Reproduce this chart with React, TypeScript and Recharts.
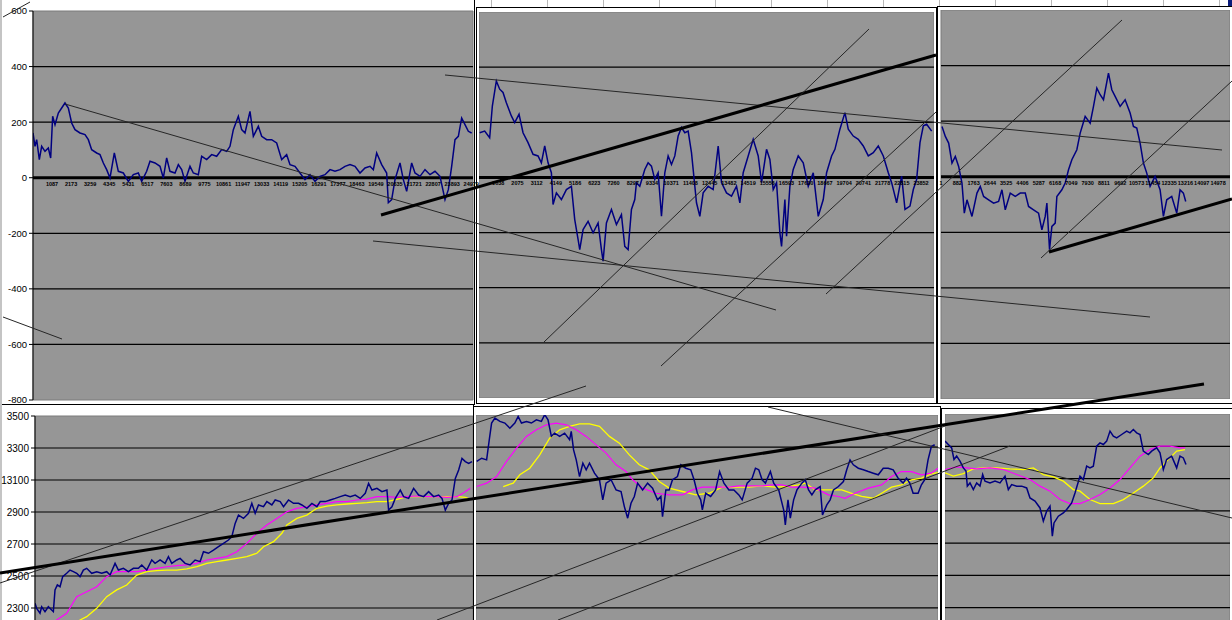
import React from "react";
import {
  LineChart,
  Line,
  XAxis,
  YAxis,
  CartesianGrid,
  ReferenceLine,
  ReferenceArea,
  ReferenceDot,
} from "recharts";

const FONT = '"Liberation Sans", Arial, sans-serif';
const NAVY = "#000080";
const MAGENTA = "#ff00ff";
const YELLOW = "#ffff00";
const PLOT_GRAY = "#969696";

// oscillator panels (top row)
const oscTicks = [-800, -600, -400, -200, 0, 200, 400, 600];
const oscTickLabels = ["-800", "-600", "-400", "-200", "0", "200", "400", "600"];
const oscGrid = [-600, -400, -200, 200, 400];

// price panels (bottom row)
const priceTicks = [2300, 2500, 2700, 2900, 3100, 3300, 3500];
const priceTickLabels = ["2300", "2500", "2700", "2900", "13100", "3300", "3500"];
const priceGrid = [2300, 2500, 2700, 2900, 3100, 3300];

// category labels under the zero line
const p1Labels = [1087, 2173, 3259, 4345, 5431, 6517, 7603, 8689, 9775, 10861, 11947, 13033, 14119, 15205, 16291, 17377, 18463, 19549, 20635, 21721, 22807, 23893, 24979];
const p2Labels = [1038, 2075, 3112, 4149, 5186, 6223, 7260, 8297, 9334, 10371, 11408, 12445, 13482, 14519, 15556, 16593, 17630, 18667, 19704, 20741, 21778, 22815, 23852];
const p3Labels = [1, 882, 1763, 2644, 3525, 4406, 5287, 6168, 7049, 7930, 8811, 9692, 10573, 11454, 12335, 13216, 14097, 14978];

// panel 1 oscillator
const p1Bars = [
  0, 114, 209, 361, 494, 684, 874, 1007, 1121, 1254,
  1444, 1634, 1824, 2014, 2204, 2394, 2679, 2964, 3154, 3344,
  3629, 3819, 4009, 4199, 4389, 4636, 4864, 5149, 5434, 5719,
  6004, 6194, 6479, 6669, 6954, 7239, 7429, 7619, 7809, 8094,
  8284, 8474, 8664, 8949, 9139, 9424, 9614, 9899, 10184, 10469,
  10754, 11039, 11229, 11419, 11704, 11894, 12084, 12369, 12559, 12844,
  13034, 13319, 13604, 13889, 14174, 14459, 14649, 14934, 15219, 15504,
  15789, 16074, 16359, 16644, 16929, 17214, 17499, 17784, 18069, 18354,
  18639, 18924, 19209, 19399, 19589, 19874, 20159, 20254, 20444, 20634,
  20919, 21109, 21299, 21584, 21774, 22059, 22344, 22629, 22914, 23199,
  23484, 23674, 23864, 24054, 24244, 24434, 24624, 24814, 25004,
];
const p1Osc = [
  161, 113, 137, 65, 113, 95, 107, 71, 221, 191,
  233, 251, 269, 251, 197, 173, 161, 155, 137, 101,
  89, 83, 53, 29, -1, 89, 23, 17, -13, 11,
  17, -13, 23, 59, 53, 41, -1, 71, 23, 17,
  47, 29, -13, 41, 17, 11, 77, 65, 83, 77,
  101, 95, 113, 173, 221, 173, 161, 239, 149, 185,
  149, 137, 137, 125, 65, 83, 47, 41, 17, -7,
  11, -13, 5, 11, 29, 23, 29, 41, 47, 41,
  17, 35, 41, 29, 89, 47, 17, -90, -79, -7,
  53, -7, -49, 53, 17, 5, 29, 11, 23, 5,
  -79, -43, 41, 137, 149, 215, 191, 167, 161,
];

// panel 2 oscillator
const p2Bars = [
  36, 306, 576, 720, 936, 1116, 1296, 1476, 1746, 1926,
  2160, 2376, 2646, 2916, 3186, 3366, 3546, 3726, 3906, 3996,
  4176, 4446, 4716, 4986, 5166, 5346, 5436, 5616, 5886, 6156,
  6426, 6606, 6696, 6876, 7146, 7416, 7686, 7866, 8046, 8226,
  8406, 8496, 8676, 8946, 9126, 9306, 9486, 9666, 9846, 10026,
  10206, 10386, 10566, 10746, 10926, 11106, 11286, 11466, 11736, 11916,
  12096, 12366, 12636, 12906, 13086, 13356, 13626, 13896, 14076, 14256,
  14526, 14796, 15066, 15246, 15516, 15696, 15876, 16056, 16236, 16326,
  16506, 16596, 16776, 16956, 17226, 17496, 17766, 18036, 18306, 18576,
  18756, 19026, 19206, 19476, 19746, 19926, 20196, 20466, 20736, 21006,
  21276, 21546, 21816, 22086, 22266, 22536, 22806, 22986, 23256, 23436,
  23616, 23796, 23976, 24156, 24426,
];
const p2Osc = [
  162, 168, 144, 259, 350, 320, 308, 271, 223, 199,
  229, 162, 126, 84, 78, 53, 114, 53, 17, -98,
  -56, -80, -44, -32, -153, -225, -262, -189, -159, -201,
  -165, -262, -304, -165, -116, -171, -135, -250, -262, -116,
  -80, -19, -32, 29, 53, 41, -7, 17, -141, 17,
  78, 47, 78, 150, 181, 162, 168, 90, -92, -141,
  -56, -32, -44, 114, -19, -56, -68, -32, -92, 17,
  78, 138, 78, -19, 102, 65, -44, -19, -201, -250,
  -80, -213, -32, 29, 78, 53, -32, 17, -141, -80,
  17, 78, 102, 175, 235, 175, 150, 138, 114, 78,
  90, 114, 78, 17, -19, -92, 5, -116, -104, -44,
  -7, 126, 187, 193, 168,
];

// panel 3 oscillator
const p3Bars = [
  54, 234, 414, 594, 774, 954, 1134, 1260, 1404, 1674,
  1944, 2124, 2304, 2574, 2844, 3114, 3294, 3474, 3744, 4014,
  4284, 4554, 4734, 5004, 5274, 5454, 5634, 5724, 5868, 5994,
  6174, 6264, 6534, 6714, 6894, 7074, 7344, 7524, 7794, 8064,
  8244, 8424, 8604, 8784, 9054, 9234, 9414, 9684, 9954, 10224,
  10404, 10584, 10764, 10944, 11124, 11304, 11574, 11844, 12024, 12204,
  12474, 12744, 12924, 13104, 13230,
];
const p3Osc = [
  181, 145, 121, 49, 73, 37, -23, -131, -83, -143,
  -59, -35, -71, -83, -95, -89, -47, -119, -59, -71,
  -59, -59, -107, -119, -131, -191, -143, -95, -263, -179,
  -167, -71, -47, -23, 25, 61, 97, 157, 217, 193,
  253, 319, 295, 277, 373, 313, 289, 253, 277, 229,
  181, 175, 121, 49, 13, -35, 1, -47, -143, -83,
  -71, -131, -47, -59, -89,
];

// panel 4 price and averages
const p4Bars = [
  0, 50, 150, 200, 300, 400, 500, 550, 600, 670,
  750, 830, 950, 1050, 1150, 1250, 1350, 1450, 1550, 1700,
  1850, 2000, 2150, 2250, 2400, 2500, 2650, 2800, 2950, 3100,
  3200, 3350, 3500, 3600, 3750, 3900, 4000, 4100, 4250, 4350,
  4500, 4650, 4800, 4950, 5050, 5200, 5350, 5500, 5650, 5800,
  5900, 6000, 6100, 6250, 6400, 6500, 6600, 6700, 6850, 6950,
  7100, 7200, 7350, 7450, 7600, 7750, 7900, 8000, 8150, 8300,
  8450, 8550, 8700, 8850, 9000, 9150, 9300, 9450, 9600, 9750,
  9900, 10000, 10100, 10250, 10400, 10550, 10600, 10700, 10800, 10950,
  11050, 11200, 11350, 11500, 11650, 11800, 11950, 12100, 12200, 12300,
  12400, 12500, 12600, 12700, 12800, 12900, 13000, 13100,
];
const p4Close = [
  2329, 2298, 2267, 2308, 2277, 2308, 2287, 2277, 2413, 2444,
  2433, 2496, 2517, 2537, 2527, 2517, 2496, 2537, 2548, 2517,
  2527, 2517, 2527, 2506, 2579, 2537, 2548, 2527, 2548, 2548,
  2569, 2537, 2600, 2579, 2600, 2579, 2621, 2579, 2600, 2610,
  2579, 2569, 2600, 2590, 2652, 2642, 2662, 2683, 2704, 2725,
  2746, 2829, 2881, 2860, 2892, 2954, 2892, 2944, 2933, 2965,
  2944, 2975, 2965, 2933, 2975, 2954, 2954, 2944, 2923, 2954,
  2933, 2965, 2965, 2975, 2985, 2996, 3006, 2996, 3006, 2985,
  3017, 3079, 3037, 3048, 3027, 3037, 2912, 2933, 2985, 3037,
  2996, 2985, 3048, 3006, 2996, 3027, 2996, 3006, 2985, 2912,
  2954, 2975, 3110, 3162, 3235, 3215, 3204, 3215,
];
const p4FastBars = [
  550, 650, 950, 1250, 1550, 1850, 2150, 2450, 2750, 3050,
  3350, 3650, 3950, 4250, 4550, 4850, 5150, 5450, 5750, 6050,
  6350, 6650, 6950, 7250, 7550, 7850, 8150, 8450, 8750, 9050,
  9350, 9650, 9950, 10250, 10550, 10850, 11150, 11450, 11750, 12050,
  12350, 12650, 12850, 13050,
];
const p4Fast = [
  2200, 2225, 2267, 2371, 2402, 2433, 2496, 2527, 2527, 2527,
  2537, 2548, 2558, 2565, 2569, 2579, 2600, 2610, 2621, 2652,
  2704, 2767, 2819, 2860, 2902, 2923, 2933, 2944, 2954, 2965,
  2965, 2975, 2981, 2996, 2996, 2992, 2996, 3000, 2996, 2996,
  2992, 2996, 3021, 3048,
];
const p4SlowBars = [
  1150, 1350, 1550, 1850, 2150, 2450, 2750, 3050, 3350, 3650,
  3950, 4250, 4550, 4850, 5150, 5450, 5750, 6050, 6350, 6650,
  6850, 7150, 7400, 7550, 7850, 8150, 8450, 8750, 9050, 9350,
  9650, 9950, 10250, 10550, 10850, 11150, 11450, 11750, 12050, 12350,
  12650, 12900, 13050,
];
const p4Slow = [
  2190, 2225, 2246, 2298, 2371, 2413, 2444, 2506, 2527, 2533,
  2537, 2537, 2544, 2558, 2579, 2590, 2600, 2610, 2621, 2642,
  2683, 2715, 2767, 2819, 2860, 2881, 2923, 2937, 2944, 2950,
  2954, 2958, 2965, 2965, 2979, 2996, 2996, 2996, 2996, 2996,
  2996, 2992, 2979,
];

// panel 5 price and averages
const p5Bars = [
  20, 170, 320, 400, 470, 570, 720, 870, 1020, 1170,
  1270, 1370, 1520, 1670, 1820, 1970, 2070, 2170, 2270, 2370,
  2520, 2670, 2820, 2870, 2940, 3020, 3120, 3220, 3320, 3420,
  3570, 3720, 3820, 3920, 4070, 4220, 4370, 4470, 4570, 4670,
  4770, 4870, 5020, 5170, 5320, 5470, 5570, 5620, 5720, 5820,
  5920, 6070, 6170, 6320, 6470, 6570, 6670, 6770, 6820, 6920,
  7070, 7220, 7340, 7470, 7620, 7770, 7920, 8020, 8170, 8320,
  8420, 8520, 8620, 8720, 8870, 8970, 9120, 9270, 9320, 9400,
  9470, 9570, 9670, 9820, 9920, 10020, 10120, 10220, 10370, 10440,
  10570, 10670, 10770, 10920, 11070, 11170, 11270, 11370, 11520, 11670,
  11820, 11970, 12120, 12270, 12420, 12570, 12720, 12870, 12970, 13070,
  13170, 13320, 13420, 13520, 13620, 13720, 13820,
];
const p5Close = [
  3211, 3231, 3221, 3346, 3450, 3481, 3460, 3450, 3418, 3450,
  3491, 3450, 3460, 3450, 3470, 3460, 3502, 3470, 3367, 3387,
  3367, 3387, 3346, 3398, 3283, 3221, 3117, 3200, 3159, 3200,
  3138, 3097, 2972, 3076, 3097, 3034, 3024, 2930, 2858, 2951,
  2993, 3076, 3034, 3076, 3045, 2972, 2993, 2868, 3034, 3034,
  3097, 3117, 3190, 3169, 3159, 3097, 3013, 2972, 2910, 3013,
  2993, 3034, 3148, 3076, 3034, 3034, 3003, 2972, 3076, 3107,
  3169, 3159, 3097, 3076, 3148, 3076, 3034, 2910, 2816, 2972,
  2858, 2972, 3034, 3076, 3097, 3034, 3003, 3034, 3055, 2878,
  2941, 2972, 3034, 3055, 3086, 3159, 3221, 3190, 3169, 3159,
  3148, 3138, 3128, 3169, 3169, 3159, 3107, 3076, 3107, 3076,
  3013, 3013, 3066, 3097, 3221, 3304, 3315,
];
const p5FastBars = [
  20, 320, 620, 920, 1220, 1520, 1820, 2120, 2420, 2720,
  3020, 3320, 3620, 3920, 4220, 4520, 4720, 5020, 5420, 5820,
  6220, 6520, 6820, 7220, 7620, 7920, 8320, 8620, 8920, 9220,
  9520, 9820, 10220, 10620, 10920, 11120, 11420, 11820, 12220, 12520,
  12820, 13120, 13420, 13720, 13920,
];
const p5Fast = [
  3055, 3076, 3117, 3211, 3294, 3367, 3408, 3439, 3450, 3439,
  3408, 3367, 3314, 3263, 3190, 3148, 3097, 3045, 3013, 3003,
  3003, 3034, 3051, 3051, 3051, 3059, 3059, 3059, 3065, 3065,
  3051, 3051, 3045, 3003, 2993, 2982, 3013, 3045, 3065, 3117,
  3148, 3148, 3128, 3138, 3169,
];
const p5SlowBars = [
  820, 1120, 1320, 1620, 1920, 2220, 2520, 2820, 3120, 3420,
  3720, 4020, 4320, 4620, 4920, 5220, 5520, 5820, 6220, 6620,
  7020, 7420, 7820, 8220, 8620, 9020, 9420, 9720, 9920, 10220,
  10620, 11020, 11320, 11620, 11970, 12220, 12520, 12820, 13120, 13420,
  13720, 13920,
];
const p5Slow = [
  3055, 3076, 3128, 3169, 3252, 3356, 3408, 3429, 3445, 3445,
  3429, 3367, 3325, 3252, 3190, 3159, 3086, 3045, 3024, 3003,
  3013, 3051, 3051, 3051, 3059, 3051, 3055, 3065, 3076, 3034,
  3034, 3034, 3013, 2993, 2982, 3013, 3051, 3065, 3097, 3107,
  3134, 3142,
];

// panel 6 price and averages
const p6Bars = [
  0, 100, 200, 270, 350, 450, 550, 630, 670, 750,
  850, 950, 1050, 1130, 1200, 1350, 1500, 1650, 1800, 1900,
  2000, 2150, 2300, 2450, 2550, 2700, 2850, 2950, 3050, 3150,
  3220, 3270, 3400, 3550, 3650, 3800, 3900, 4050, 4150, 4250,
  4350, 4450, 4550, 4650, 4750, 4850, 4950, 5050, 5150, 5300,
  5450, 5550, 5650, 5750, 5850, 5950, 6100, 6200, 6350, 6450,
  6550, 6650, 6800, 6950, 7050, 7150, 7230,
];
const p6Close = [
  3332, 3311, 3290, 3218, 3239, 3208, 3166, 3146, 3053, 3073,
  3032, 3073, 3053, 3125, 3084, 3073, 3084, 3073, 3115, 3032,
  3063, 3053, 3053, 3042, 2980, 2960, 2918, 2836, 2898, 2929,
  2743, 2825, 2867, 2887, 2908, 2949, 3011, 3115, 3094, 3177,
  3166, 3177, 3301, 3321, 3311, 3332, 3394, 3363, 3352, 3373,
  3394, 3383, 3404, 3383, 3373, 3270, 3249, 3270, 3290, 3259,
  3156, 3218, 3239, 3166, 3239, 3228, 3187,
];
const p6FastBars = [
  0, 350, 650, 950, 1350, 1750, 2150, 2550, 2850, 3150,
  3450, 3750, 4050, 4350, 4650, 4950, 5250, 5550, 5850, 6150,
  6450, 6750, 7050, 7200,
];
const p6Fast = [
  3156, 3172, 3166, 3160, 3166, 3156, 3125, 3094, 3053, 3022,
  2970, 2945, 2945, 2970, 3001, 3042, 3094, 3166, 3239, 3280,
  3301, 3301, 3290, 3290,
];
const p6SlowBars = [
  0, 250, 550, 850, 1150, 1550, 1950, 2350, 2650, 2950,
  3250, 3550, 3850, 4050, 4350, 4650, 5050, 5350, 5650, 5950,
  6250, 6450, 6750, 6950, 7200,
];
const p6Slow = [
  3135, 3115, 3131, 3160, 3166, 3166, 3160, 3156, 3166, 3125,
  3110, 3084, 3032, 3022, 2970, 2945, 2945, 2970, 3011, 3053,
  3104, 3166, 3228, 3270, 3280,
];

// hand drawn trend lines on the sheet: [x1, y1, x2, y2, heavy]
const trendLines: [number, number, number, number, boolean][] = [
  [65, 104, 776, 310, false],
  [445, 75, 1222, 150, false],
  [381, 215, 936, 55, true],
  [373, 241, 1150, 317, false],
  [544, 342, 869, 29, false],
  [661, 366, 936, 112, false],
  [826, 294, 1122, 20, false],
  [1041, 258, 1232, 81, false],
  [1049, 252, 1232, 199, true],
  [0, 583, 586, 386, false],
  [0, 573, 1204, 384, true],
  [437, 620, 945, 426, false],
  [558, 620, 1010, 446, false],
  [768, 407, 1232, 518, false],
  [3, 317, 62, 339, false],
  [3, 17, 30, 2, false],
];

const pts = (bars: number[], vals: number[]) =>
  bars.slice(0, vals.length).map((x, i) => ({ x, v: vals[i] }));

type Series = { bars: number[]; values: number[]; color: string; width: number };

interface PanelProps {
  left: number;
  top: number;
  width: number;
  height: number;
  margin: { top: number; right: number; bottom: number; left: number };
  xMax: number;
  yDomain: [number, number];
  yTicks: number[];
  yLabels: string[];
  yAxisWidth?: number;
  yFont?: number;
  grid: number[];
  zero?: boolean;
  xLabels?: number[];
  series: Series[];
}

function Panel({
  left,
  top,
  width,
  height,
  margin,
  xMax,
  yDomain,
  yTicks,
  yLabels,
  yAxisWidth,
  yFont = 10,
  grid,
  zero,
  xLabels,
  series,
}: PanelProps) {
  return (
    <div style={{ position: "absolute", left, top }}>
      <LineChart width={width} height={height} margin={margin}>
        <CartesianGrid fill={PLOT_GRAY} horizontal={false} vertical={false} />
        <XAxis type="number" dataKey="x" domain={[0, xMax]} allowDataOverflow hide />
        <YAxis
          type="number"
          domain={yDomain}
          allowDataOverflow
          ticks={yTicks}
          interval={0}
          hide={!yAxisWidth}
          width={yAxisWidth || 0}
          axisLine={{ stroke: "#000" }}
          tickLine={{ stroke: "#000" }}
          tickSize={4}
          tickMargin={2}
          tickFormatter={(v: number) => yLabels[yTicks.indexOf(v)] ?? String(v)}
          tick={{ fill: "#000", fontSize: yFont, fontFamily: FONT }}
        />
        <ReferenceArea
          x1={0}
          x2={xMax}
          y1={yDomain[0]}
          y2={yDomain[1]}
          fill="none"
          stroke="#7a7a7a"
          strokeWidth={1}
        />
        {grid.map((g) => (
          <ReferenceLine key={g} y={g} stroke="#000" strokeWidth={1.2} />
        ))}
        {zero && <ReferenceLine y={0} stroke="#000" strokeWidth={3} />}
        {(xLabels || []).map((t) => (
          <ReferenceDot
            key={t}
            x={t}
            y={0}
            r={0.1}
            fill="none"
            stroke="none"
            label={{
              value: String(t),
              position: "bottom",
              offset: 4,
              fontSize: 5.5,
              fontWeight: "bold",
              fontFamily: FONT,
              fill: "#000",
            }}
          />
        ))}
        {series.map((s, i) => (
          <Line
            key={i}
            data={pts(s.bars, s.values)}
            dataKey="v"
            type="linear"
            stroke={s.color}
            strokeWidth={s.width}
            dot={false}
            activeDot={false}
            isAnimationActive={false}
          />
        ))}
      </LineChart>
    </div>
  );
}

const frame = (left: number, top: number, width: number, height: number, extra = {}) => (
  <div
    style={{
      position: "absolute",
      left,
      top,
      width,
      height,
      boxSizing: "border-box",
      background: "#fff",
      border: "1px solid #000",
      ...extra,
    }}
  />
);

export default function App() {
  return (
    <div
      style={{
        position: "absolute",
        left: 0,
        top: 0,
        width: 1232,
        height: 620,
        overflow: "hidden",
        background: "#fff",
        fontFamily: FONT,
      }}
    >
      {/* spreadsheet column strip behind the right-hand charts */}
      <div
        style={{
          position: "absolute",
          left: 476,
          top: 0,
          width: 756,
          height: 8,
          backgroundImage: "linear-gradient(to right, #b8b8b8 1px, transparent 1px)",
          backgroundSize: "56px 100%",
          backgroundPosition: "15px 0",
        }}
      />
      <div style={{ position: "absolute", left: 1228, top: 0, width: 4, height: 21, background: "#0a1a7a" }} />

      {frame(0, -1, 475, 406, { borderTop: "none", borderLeft: "2px solid #c4c4c4" })}
      {frame(476, 7, 461, 397)}
      {frame(937, 6, 300, 398)}
      {frame(-1, 404, 475, 230, { borderLeft: "none" })}
      {frame(473, 406, 468, 230)}
      {frame(941, 408, 300, 230)}
      <div style={{ position: "absolute", left: 0, top: 404, width: 2, height: 216, background: "#c4c4c4" }} />

      <Panel
        left={0}
        top={0}
        width={482}
        height={406}
        margin={{ top: 11, right: 9, bottom: 6, left: 0 }}
        xMax={25080}
        yDomain={[-800, 600]}
        yTicks={oscTicks}
        yLabels={oscTickLabels}
        yAxisWidth={33}
        yFont={9.5}
        grid={oscGrid}
        zero
        xLabels={p1Labels}
        series={[{ bars: p1Bars, values: p1Osc, color: NAVY, width: 1.5 }]}
      />
      <Panel
        left={479}
        top={12}
        width={455}
        height={386}
        margin={{ top: 0, right: 0, bottom: 0, left: 0 }}
        xMax={24552}
        yDomain={[-800, 600]}
        yTicks={oscTicks}
        yLabels={oscTickLabels}
        grid={oscGrid}
        zero
        xLabels={p2Labels}
        series={[{ bars: p2Bars, values: p2Osc, color: NAVY, width: 1.5 }]}
      />
      <Panel
        left={935}
        top={10}
        width={295}
        height={389}
        margin={{ top: 0, right: 0, bottom: 0, left: 6 }}
        xMax={15624}
        yDomain={[-800, 600]}
        yTicks={oscTicks}
        yLabels={oscTickLabels}
        grid={oscGrid}
        zero
        xLabels={p3Labels}
        series={[{ bars: p3Bars, values: p3Osc, color: NAVY, width: 1.5 }]}
      />

      <Panel
        left={0}
        top={408}
        width={473}
        height={232}
        margin={{ top: 8, right: 0, bottom: 0, left: 0 }}
        xMax={13130}
        yDomain={[2100, 3500]}
        yTicks={priceTicks}
        yLabels={priceTickLabels}
        yAxisWidth={35}
        yFont={10}
        grid={priceGrid}
        series={[
          { bars: p4SlowBars, values: p4Slow, color: YELLOW, width: 1.3 },
          { bars: p4FastBars, values: p4Fast, color: MAGENTA, width: 1.2 },
          { bars: p4Bars, values: p4Close, color: NAVY, width: 1.5 },
        ]}
      />
      <Panel
        left={476}
        top={415}
        width={462}
        height={225}
        margin={{ top: 0, right: 0, bottom: 0, left: 0 }}
        xMax={13920}
        yDomain={[2100, 3500]}
        yTicks={priceTicks}
        yLabels={priceTickLabels}
        grid={priceGrid}
        series={[
          { bars: p5SlowBars, values: p5Slow, color: YELLOW, width: 1.3 },
          { bars: p5FastBars, values: p5Fast, color: MAGENTA, width: 1.2 },
          { bars: p5Bars, values: p5Close, color: NAVY, width: 1.5 },
        ]}
      />
      <Panel
        left={945}
        top={414}
        width={285}
        height={226}
        margin={{ top: 0, right: 0, bottom: 0, left: 0 }}
        xMax={8550}
        yDomain={[2100, 3500]}
        yTicks={priceTicks}
        yLabels={priceTickLabels}
        grid={priceGrid}
        series={[
          { bars: p6SlowBars, values: p6Slow, color: YELLOW, width: 1.3 },
          { bars: p6FastBars, values: p6Fast, color: MAGENTA, width: 1.2 },
          { bars: p6Bars, values: p6Close, color: NAVY, width: 1.5 },
        ]}
      />

      {/* trend lines drawn over the whole sheet */}
      <div style={{ position: "absolute", left: 0, top: 0, pointerEvents: "none" }}>
        <LineChart width={1232} height={620} margin={{ top: 0, right: 0, bottom: 0, left: 0 }}>
          <XAxis type="number" dataKey="x" domain={[0, 1232]} hide allowDataOverflow />
          <YAxis type="number" domain={[0, 620]} reversed hide allowDataOverflow />
          {trendLines.map(([x1, y1, x2, y2, heavy], i) => (
            <ReferenceLine
              key={i}
              segment={[
                { x: x1, y: y1 },
                { x: x2, y: y2 },
              ]}
              stroke={heavy ? "#000" : "#262626"}
              strokeWidth={heavy ? 3 : 1}
              ifOverflow="visible"
            />
          ))}
        </LineChart>
      </div>
    </div>
  );
}
